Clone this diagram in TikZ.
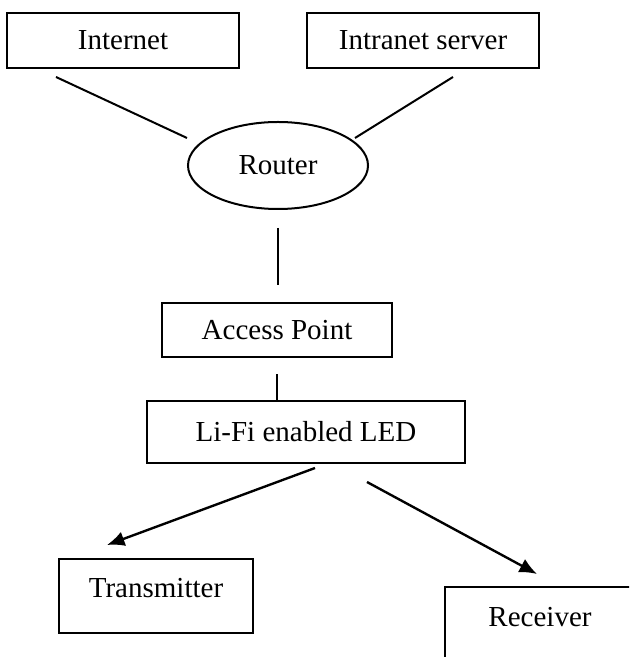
\documentclass[tikz,border=0pt]{standalone}
\usepackage{fontspec}
\setmainfont{Liberation Serif}
\usetikzlibrary{shapes.geometric,arrows.meta}

\begin{document}
\begin{tikzpicture}[x=0.4pt, y=-0.4pt, line width=0.8pt,
  box/.style={draw, rectangle, inner sep=0pt, font=\fontsize{11.6}{14}\selectfont},
  hub/.style={draw, ellipse, inner sep=0pt, font=\fontsize{11.6}{14}\selectfont},
  link/.style={-{Latex[length=7pt,width=6pt]}, line width=0.95pt}]
  \useasboundingbox (0,0) rectangle (629,657);
  \clip (0,0) rectangle (629,657);
  % network side
  \node[box, minimum width=92.8pt, minimum height=22pt] (inet)  at (123,40.5) {Internet};
  \node[box, minimum width=92.8pt, minimum height=22pt] (intra) at (423,40.5) {Intranet server};
  \node[hub, minimum width=72pt, minimum height=34.8pt] (router) at (278,165.5) {Router};
  \node[box, minimum width=92pt, minimum height=21.6pt] (ap)  at (277,330) {Access Point};
  \node[box, minimum width=127.2pt, minimum height=24.8pt] (led) at (306,432) {Li-Fi enabled LED};
  % light side, labels sit high in the boxes
  \node[box, minimum width=77.6pt, minimum height=29.6pt, text depth=6.4pt] (tx) at (156,596) {Transmitter};
  \node[box, minimum width=76pt, minimum height=29.6pt, text depth=5.6pt] (rx) at (540,624) {Receiver};

  \draw ([shift={(50,8)}]inet.south west) -- ([shift={(0,-27.5)}]router.west);
  \draw ([shift={(-87,8)}]intra.south east) -- ([shift={(-14,-27.5)}]router.east);
  \draw[shorten <=7.2pt, shorten >=6.8pt] (router.south) -- (router.south |- ap.north);
  \draw[shorten <=6.4pt] (ap.south) -- (ap.south |- led.north);
  \draw[link] ([shift={(9,4)}]led.south) -- ([shift={(49,-13)}]tx.north west);
  \draw[link] ([shift={(61,18)}]led.south) -- ([shift={(-3,-12)}]rx.north);
\end{tikzpicture}
\end{document}
